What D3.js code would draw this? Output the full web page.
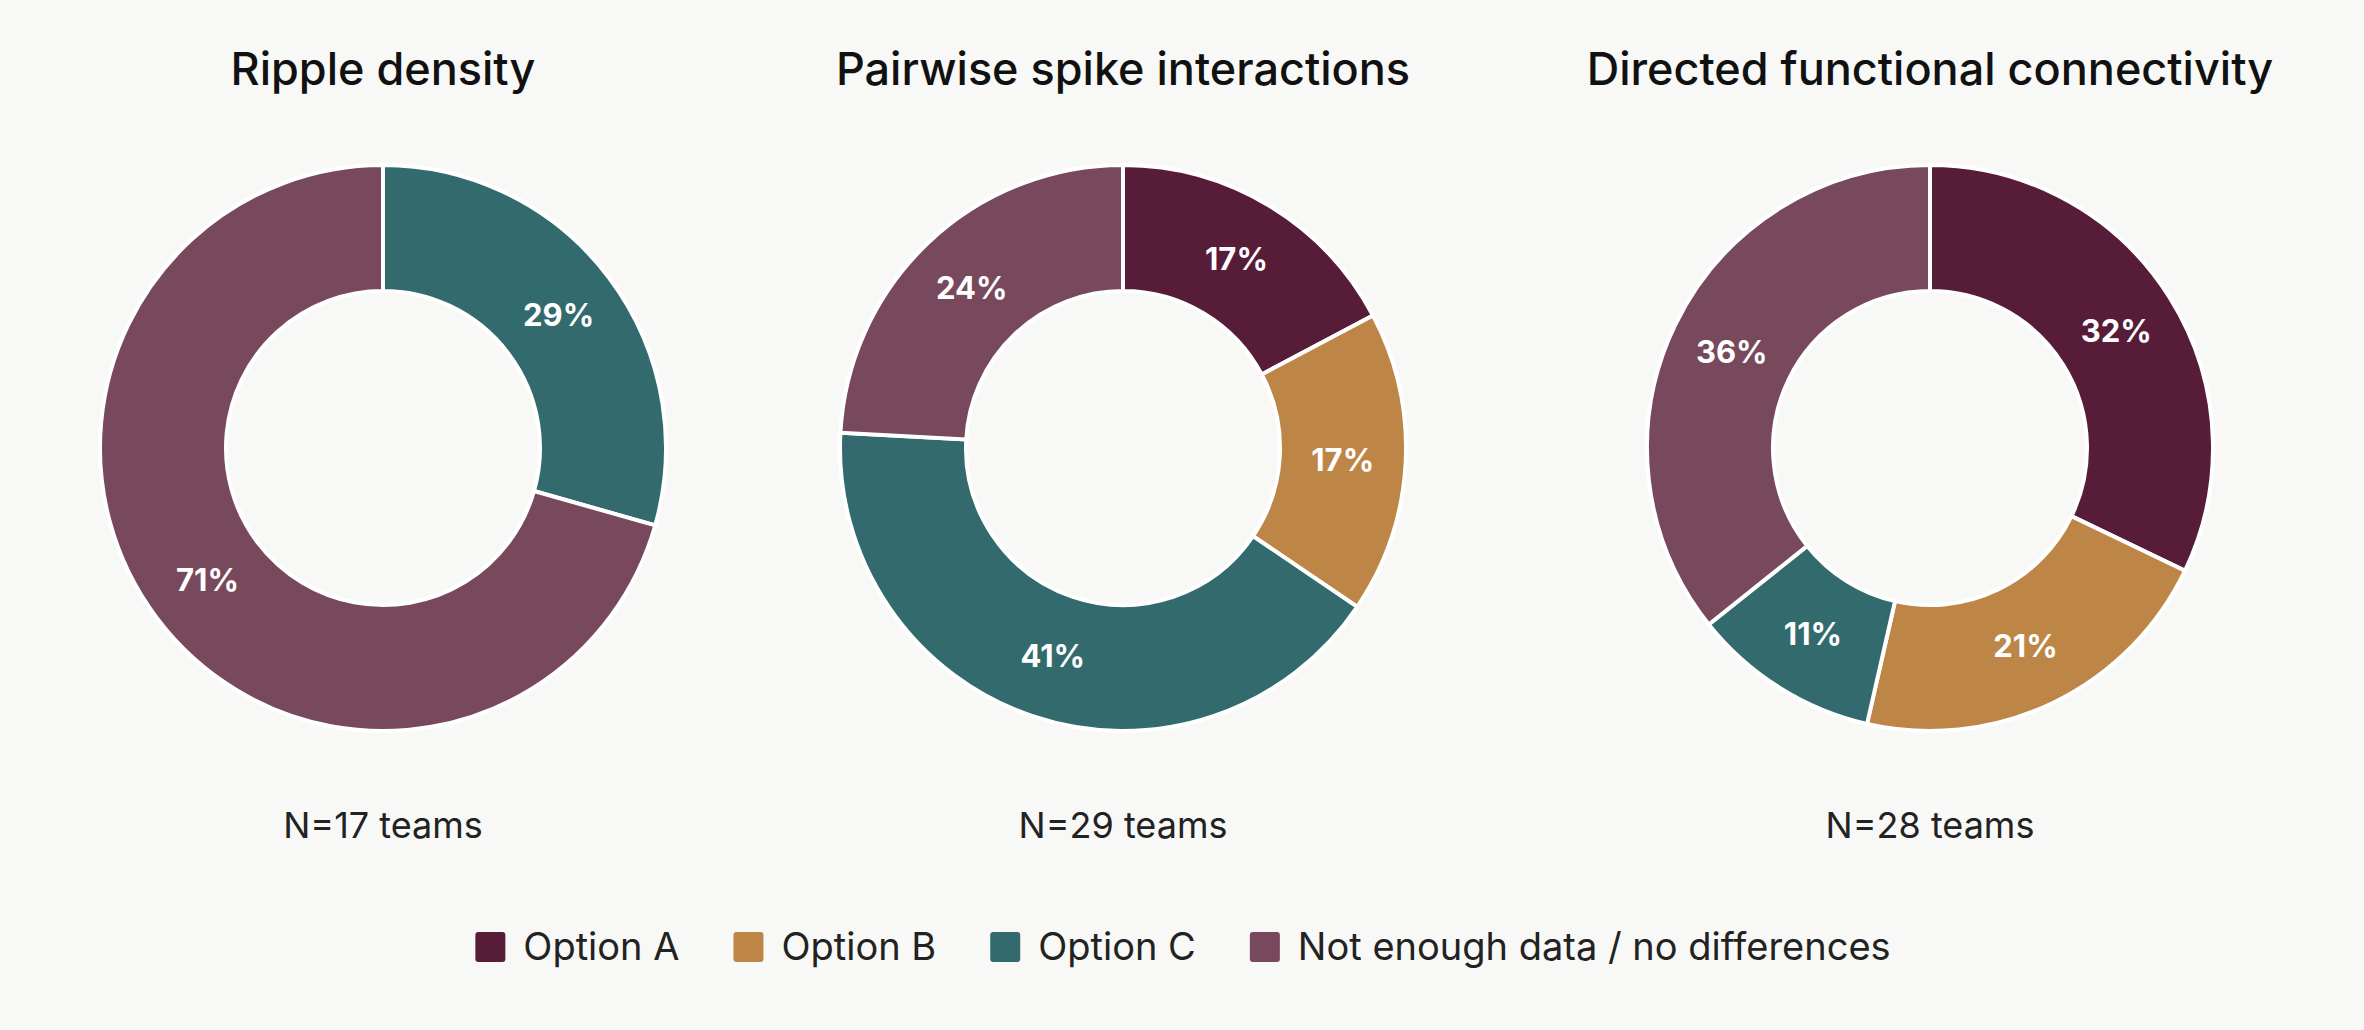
<!DOCTYPE html>
<html>
<head>
<script src="https://cdn.jsdelivr.net/npm/d3@7"></script>
<style>
  body { margin: 0; background: #f8f8f6; font-family: Inter, "Noto Sans", sans-serif; }
</style>
</head>
<body>
<svg id="chart" width="2364" height="1030"></svg>
<script>
var categories = ["Option A", "Option B", "Option C", "Not enough data / no differences"];
var colors = ["#561c38", "#bd8646", "#336a6d", "#78495c"];
var titles = ["Ripple density", "Pairwise spike interactions", "Directed functional connectivity"];
var teamCounts = [17, 29, 28];
var rippleCounts = [0, 0, 5, 12];
var pairwiseCounts = [5, 5, 12, 7];
var directedCounts = [9, 6, 3, 10];
var allCounts = [rippleCounts, pairwiseCounts, directedCounts];

var svg = d3.select("#chart");
var centers = d3.scaleOrdinal().domain([0, 1, 2]).range([383, 1123, 1930]);
var cy = 448, outerR = 283, innerR = 157;

var pie = d3.pie().sort(null).value(function(d) { return d; });
var arc = d3.arc().innerRadius(innerR).outerRadius(outerR);
var labelArc = d3.arc().innerRadius((innerR + outerR) / 2).outerRadius((innerR + outerR) / 2);

allCounts.forEach(function(counts, i) {
    var total = d3.sum(counts);
    var g = svg.append("g").attr("transform", "translate(" + centers(i) + "," + cy + ")");
    var arcs = pie(counts).map(function(a, k) { a.k = k; return a; }).filter(function(a) { return a.data > 0; });
    g.selectAll("path").data(arcs).enter().append("path")
        .attr("d", arc)
        .attr("fill", function(d) { return colors[d.k]; })
        .attr("stroke", "#fff").attr("stroke-width", 4);
    g.selectAll("text").data(arcs).enter().append("text")
        .attr("transform", function(d) { return "translate(" + labelArc.centroid(d) + ")"; })
        .attr("text-anchor", "middle").attr("dy", "0.35em")
        .attr("fill", "#fff").attr("font-weight", 700).attr("font-size", 31)
        .text(function(d) { return Math.round(d.data / total * 100) + "%"; });
    svg.append("text").attr("x", centers(i)).attr("y", 85)
        .attr("text-anchor", "middle").attr("font-size", 45).attr("font-weight", 500).attr("fill", "#111")
        .text(titles[i]);
    svg.append("text").attr("x", centers(i)).attr("y", 838)
        .attr("text-anchor", "middle").attr("font-size", 36).attr("fill", "#222")
        .text("N=" + teamCounts[i] + " teams");
});

// legend
var legend = svg.append("g");
var x = 0, box = 30, gapText = 18, gapItem = 54;
categories.forEach(function(c, k) {
    var item = legend.append("g").attr("transform", "translate(" + x + ",0)");
    item.append("rect").attr("x", 0).attr("y", -box / 2).attr("width", box).attr("height", box).attr("rx", 3).attr("fill", colors[k]);
    var t = item.append("text").attr("x", box + gapText).attr("dy", "0.35em")
        .attr("font-size", 38).attr("fill", "#222").text(c);
    x += box + gapText + t.node().getComputedTextLength() + gapItem;
});
x -= gapItem;
legend.attr("transform", "translate(" + (1183 - x / 2) + ",947)");
</script>
</body>
</html>
